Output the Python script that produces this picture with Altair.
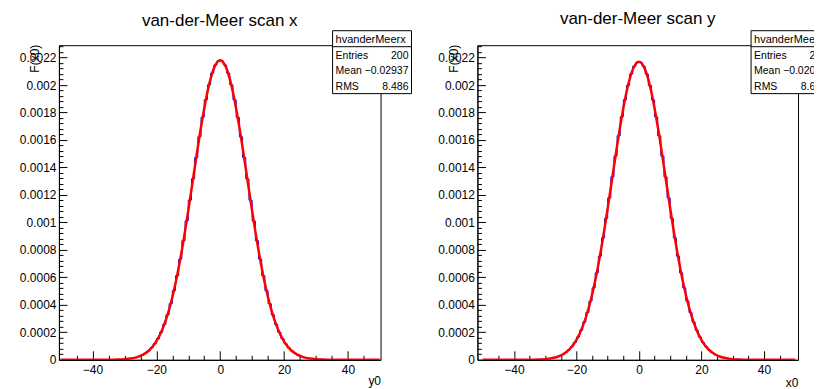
import altair as alt
import pandas as pd

FONT = "Liberation Sans"

# ---------------- data ----------------
bin_centers = [c + 0.5 for c in range(-50, 50)]   # histogram bin centres (bin width 1)
fit_points = list(range(-50, 51, 2))                # points where the fitted curve is drawn

# scan x: histogram contents, negative half (x = -49.5 ... -0.5) and positive half (0.5 ... 49.5)
hist_x_neg = [0, 0, 0, 0, 0, 0, 0, 0, 0, 0, 0, 0, 0, 0, 0,
              0.0000005, 0.0000009, 0.0000014, 0.0000022, 0.0000033, 0.0000051, 0.0000076,
              0.0000112, 0.0000163, 0.0000235, 0.0000332, 0.0000464, 0.0000640, 0.0000870,
              0.0001165, 0.0001540, 0.0002006, 0.0002579, 0.0003269, 0.0004086, 0.0005036,
              0.0006121, 0.0007337, 0.0008673, 0.0010110, 0.0011622, 0.0013175, 0.0014730,
              0.0016240, 0.0017656, 0.0018930, 0.0020016, 0.0020871, 0.0021461, 0.0021762]
hist_x_pos = [0.0021758, 0.0021455, 0.0020864, 0.0020008, 0.0018921, 0.0017647, 0.0016231,
              0.0014721, 0.0013166, 0.0011614, 0.0010103, 0.0008667, 0.0007332, 0.0006117,
              0.0005032, 0.0004083, 0.0003266, 0.0002577, 0.0002004, 0.0001538, 0.0001164,
              0.0000869, 0.0000639, 0.0000463, 0.0000331, 0.0000234, 0.0000162, 0.0000111,
              0.0000076, 0.0000051, 0.0000033, 0.0000022, 0.0000014, 0.0000009, 0.0000005,
              0, 0, 0, 0, 0, 0, 0, 0, 0, 0, 0, 0, 0, 0, 0]
fit_x_curve = [0, 0, 0, 0, 0, 0, 0, 0, 0.0000007, 0.0000017, 0.0000041, 0.0000092, 0.0000196,
               0.0000394, 0.0000747, 0.000134, 0.000228, 0.000366, 0.000556, 0.000799, 0.001086,
               0.001396, 0.001696, 0.001950, 0.002120, 0.002180, 0.002118, 0.001946, 0.001692,
               0.001392, 0.001082, 0.000796, 0.000554, 0.000364, 0.000227, 0.000133, 0.0000742,
               0.0000391, 0.0000194, 0.0000091, 0.0000040, 0.0000017, 0.0000007, 0, 0, 0, 0, 0, 0, 0, 0]

# scan y
hist_y_neg = [0, 0, 0, 0, 0, 0, 0, 0, 0, 0, 0, 0, 0, 0, 0,
              0.0000007, 0.0000011, 0.0000017, 0.0000026, 0.0000040, 0.0000060, 0.0000089,
              0.0000131, 0.0000188, 0.0000268, 0.0000375, 0.0000519, 0.0000708, 0.0000954,
              0.0001267, 0.0001660, 0.0002146, 0.0002737, 0.0003445, 0.0004276, 0.0005238,
              0.0006329, 0.0007546, 0.0008875, 0.0010298, 0.0011789, 0.0013316, 0.0014836,
              0.0016309, 0.0017687, 0.0018924, 0.0019975, 0.0020802, 0.0021373, 0.0021663]
hist_y_pos = [0.0021660, 0.0021368, 0.0020796, 0.0019968, 0.0018917, 0.0017680, 0.0016302,
              0.0014829, 0.0013310, 0.0011784, 0.0010293, 0.0008871, 0.0007543, 0.0006326,
              0.0005236, 0.0004274, 0.0003443, 0.0002736, 0.0002145, 0.0001659, 0.0001266,
              0.0000953, 0.0000707, 0.0000518, 0.0000374, 0.0000267, 0.0000188, 0.0000131,
              0.0000089, 0.0000060, 0.0000040, 0.0000026, 0.0000017, 0.0000011, 0.0000007,
              0, 0, 0, 0, 0, 0, 0, 0, 0, 0, 0, 0, 0, 0, 0]
fit_y_curve = [0, 0, 0, 0, 0, 0, 0, 0, 0.0000009, 0.0000021, 0.0000049, 0.0000108, 0.0000225,
               0.0000442, 0.0000823, 0.000145, 0.000243, 0.000384, 0.000577, 0.000820, 0.001104,
               0.001408, 0.001701, 0.001948, 0.002112, 0.002170, 0.002111, 0.001946, 0.001699,
               0.001405, 0.001101, 0.000818, 0.000575, 0.000383, 0.000242, 0.000144, 0.0000819,
               0.0000440, 0.0000224, 0.0000107, 0.0000049, 0.0000021, 0.0000009, 0, 0, 0, 0, 0, 0, 0, 0]

y_major = [0, 0.0002, 0.0004, 0.0006, 0.0008, 0.001, 0.0012, 0.0014, 0.0016, 0.0018, 0.002, 0.0022]
y_minor = [round(i * 0.00004, 6) for i in range(0, 58) if i % 5 != 0]
x_major = [-40, -20, 0, 20, 40]
x_minor = [-45, -35, -30, -25, -15, -10, -5, 5, 10, 15, 25, 30, 35, 45]

stats_labels = ["Entries", "Mean", "RMS"]
stats_x = ["hvanderMeerx", "200", "\u22120.02937", "8.486"]
stats_y = ["hvanderMeery", "200", "\u22120.02025", "8.613"]

Y_MAX = 0.00229
H = 315


def tick_axis(orient, offset, values, size):
    return alt.Axis(orient=orient, offset=offset, values=values, labels=False, ticks=True,
                    tickSize=size, tickColor="black", tickWidth=1, domain=False, grid=False,
                    title=None)


def panel(hist_vals, fit_vals, xdom, W, title, title_y, xtitle, xtitle_y, stats):
    hist_df = pd.DataFrame({"x": bin_centers, "y": hist_vals})
    fit_df = pd.DataFrame({"x": fit_points, "y": fit_vals})
    xs = alt.Scale(domain=xdom, nice=False, zero=False)
    ys = alt.Scale(domain=[0, Y_MAX], nice=False, zero=False)

    x_lab = alt.Axis(orient="bottom", values=x_major, format="d", ticks=False, tickSize=0,
                     domain=True, domainColor="black", domainWidth=1, zindex=1, grid=False,
                     labelFontSize=12, labelColor="black", labelPadding=5, labelFont=FONT,
                     title=xtitle, titleX=W, titleY=xtitle_y, titleAlign="right",
                     titleBaseline="alphabetic", titleFontSize=12, titleFontWeight="normal",
                     titleColor="black", titleFont=FONT)
    y_lab = alt.Axis(orient="left", values=y_major, format="~g", ticks=False, tickSize=0,
                     domain=True, domainColor="black", domainWidth=1, zindex=1, grid=False,
                     labelFontSize=12, labelColor="black", labelPadding=3, labelFont=FONT,
                     title="F(x0)", titleX=-17, titleY=-1, titleAngle=270, titleAlign="right",
                     titleBaseline="bottom", titleFontSize=12, titleFontWeight="normal",
                     titleColor="black", titleFont=FONT)

    hist = alt.Chart(hist_df).mark_line(interpolate="step", color="#0000ff", strokeWidth=1,
                                         clip=True).encode(
        x=alt.X("x:Q", scale=xs, axis=x_lab),
        y=alt.Y("y:Q", scale=ys, axis=y_lab))
    fit = alt.Chart(fit_df).mark_line(interpolate="monotone", color="#ff0000", strokeWidth=2.5,
                                       clip=True).encode(
        x=alt.X("x:Q", scale=xs, axis=tick_axis("top", -H, x_major, 9)),
        y=alt.Y("y:Q", scale=ys, axis=tick_axis("right", -W, y_major, 8)))
    minor = alt.Chart(fit_df).mark_line(strokeOpacity=0, clip=True).encode(
        x=alt.X("x:Q", scale=xs, axis=tick_axis("top", -H, x_minor, 4.5)),
        y=alt.Y("y:Q", scale=ys, axis=tick_axis("right", -W, y_minor, 4)))

    one = pd.DataFrame({"k": [0]})
    head = alt.Chart(one).mark_text(text=title, font=FONT, fontSize=17, align="center",
                                    baseline="alphabetic", color="black").encode(
        x=alt.value(W / 2), y=alt.value(title_y))
    bx0, bx1 = 274, 353
    box = alt.Chart(one).mark_rect(fill="white", stroke="black", strokeWidth=1).encode(
        x=alt.value(bx0), x2=alt.value(bx1), y=alt.value(-14.5), y2=alt.value(48.5))
    sep = alt.Chart(one).mark_rule(color="black", strokeWidth=1).encode(
        x=alt.value(bx0), x2=alt.value(bx1), y=alt.value(1.5))
    layers = [hist, fit, minor, head, box, sep]
    layers.append(alt.Chart(one).mark_text(text=stats[0], font=FONT, fontSize=11, align="left",
                                           baseline="alphabetic", color="black").encode(
        x=alt.value(bx0 + 3), y=alt.value(-2.5)))
    row_y = [13.5, 28.5, 44.5]
    for lab, val, ry in zip(stats_labels, stats[1:], row_y):
        layers.append(alt.Chart(one).mark_text(text=lab, font=FONT, fontSize=10.5, align="left",
                                               baseline="alphabetic", color="black").encode(
            x=alt.value(bx0 + 3), y=alt.value(ry)))
        layers.append(alt.Chart(one).mark_text(text=val, font=FONT, fontSize=10.5, align="right",
                                               baseline="alphabetic", color="black").encode(
            x=alt.value(bx1 - 3), y=alt.value(ry)))

    return alt.layer(*layers).resolve_axis(x="independent", y="independent").properties(
        width=W, height=H)


left = panel(hist_x_neg + hist_x_pos, fit_x_curve, [-50.5, 50.2], 322,
             "van-der-Meer scan x", -19, "y0", 25, stats_x)
right = panel(hist_y_neg + hist_y_pos, fit_y_curve, [-51.7, 50.9], 321,
              "van-der-Meer scan y", -21, "x0", 27, stats_y)

chart = alt.hconcat(left, right, spacing=97, bounds="flush").properties(
    padding={"left": 10, "top": 1, "right": -17, "bottom": 0}
).configure(font=FONT).configure_view(stroke="black", strokeWidth=1)

chart.save("out.html", embed_options={"renderer": "svg", "actions": False})
